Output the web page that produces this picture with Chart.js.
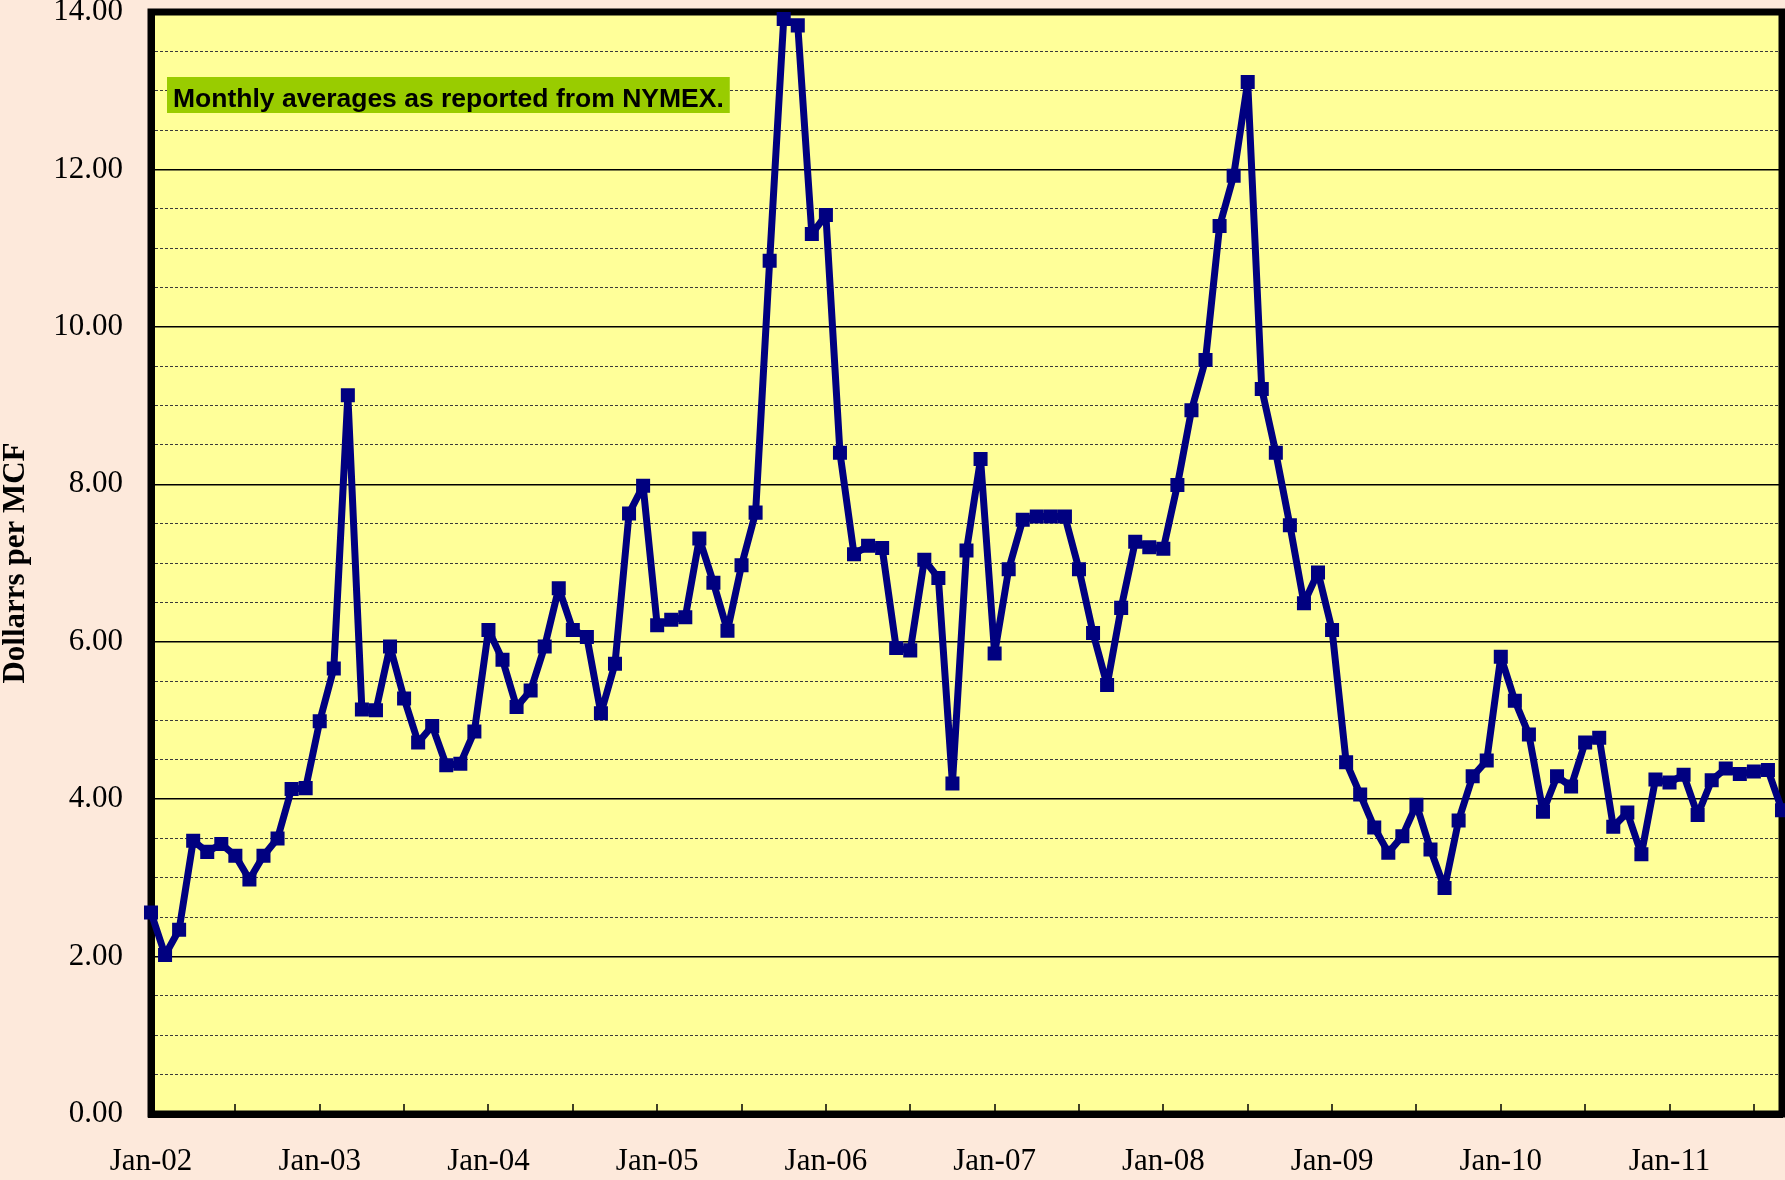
<!DOCTYPE html>
<html>
<head>
<meta charset="utf-8">
<title>Natural gas prices - monthly averages</title>
<script src="https://cdn.jsdelivr.net/npm/chart.js@4.4.1/dist/chart.umd.min.js"></script>
<style>
  html, body { margin: 0; padding: 0; background: #fde9db; }
  canvas { display: block; }
</style>
</head>
<body>
<canvas id="line" width="1785" height="1180"></canvas>
<script>
//month names and years for the category axis
var monthNames = ['Jan', 'Feb', 'Mar', 'Apr', 'May', 'Jun', 'Jul', 'Aug', 'Sep', 'Oct', 'Nov', 'Dec'];
var years = ['02', '03', '04', '05', '06', '07', '08', '09', '10', '11'];

//dollars per MCF, Jan-02 .. Sep-11
var prices = [
    2.56, 2.02, 2.34, 3.47, 3.33, 3.43, 3.28, 2.98, 3.28, 3.50, 4.13, 4.14,      // 2002
    4.99, 5.66, 9.13, 5.14, 5.13, 5.94, 5.28, 4.72, 4.93, 4.43, 4.45, 4.86,      // 2003
    6.15, 5.77, 5.17, 5.38, 5.94, 6.68, 6.15, 6.06, 5.09, 5.72, 7.63, 7.98,      // 2004
    6.21, 6.28, 6.31, 7.31, 6.75, 6.14, 6.97, 7.64, 10.84, 13.91, 13.83, 11.18,  // 2005
    11.42, 8.40, 7.11, 7.22, 7.19, 5.92, 5.89, 7.04, 6.81, 4.20, 7.16, 8.32,     // 2006
    5.85, 6.92, 7.55, 7.59, 7.59, 7.59, 6.92, 6.11, 5.45, 6.43, 7.27, 7.20,      // 2007
    7.18, 7.99, 8.94, 9.58, 11.28, 11.92, 13.11, 9.21, 8.40, 7.48, 6.49, 6.88,   // 2008
    6.15, 4.47, 4.06, 3.64, 3.32, 3.53, 3.93, 3.36, 2.87, 3.73, 4.29, 4.49,      // 2009
    5.81, 5.25, 4.82, 3.84, 4.29, 4.16, 4.72, 4.78, 3.65, 3.83, 3.30, 4.25,      // 2010
    4.21, 4.31, 3.80, 4.24, 4.39, 4.32, 4.35, 4.37, 3.86                         // 2011
];

var note = 'Monthly averages as reported from NYMEX.';
var axisTitle = 'Dollarrs per MCF';

//build the month labels (Jan-02, Feb-02, ...) as long as there are prices
var months = [];
for (var y = 0; y < years.length; y++) {
    for (var m = 0; m < 12; m++) {
        if (months.length < prices.length) months.push(monthNames[m] + '-' + years[y]);
    }
}

//no automatic padding from the tick labels, the plot box is fixed
function noPadding(scale) {
    scale.paddingTop = 0;
    scale.paddingBottom = 0;
    scale.paddingLeft = 0;
    scale.paddingRight = 0;
}

//background, frame, small ticks and the note box
var decor = {
    id: 'decor',
    beforeDraw: function (chart) {
        var c = chart.ctx, a = chart.chartArea;
        c.save();
        c.fillStyle = '#fde9db';
        c.fillRect(0, 0, chart.width, chart.height);
        c.fillStyle = '#ffff99';
        c.fillRect(a.left, a.top, a.right - a.left, a.bottom - a.top);
        c.restore();
    },
    beforeDatasetsDraw: function (chart) {
        var c = chart.ctx, a = chart.chartArea, xs = chart.scales.x;
        c.save();
        c.strokeStyle = '#000';
        c.lineWidth = 1.5;
        for (var i = 6; i < months.length - 1; i += 6) {
            var px = Math.round(xs.getPixelForValue(i));
            c.beginPath();
            c.moveTo(px, a.bottom - 3);
            c.lineTo(px, a.bottom - 10);
            c.stroke();
        }
        c.lineWidth = 7;
        c.strokeRect(a.left, a.top, a.right - a.left, a.bottom - a.top);

        c.font = 'bold 26.5px "Liberation Sans", Arial, sans-serif';
        var w = c.measureText(note).width;
        c.fillStyle = '#99cc00';
        c.fillRect(a.left + 16, a.top + 65, w + 12, 36);
        c.fillStyle = '#000';
        c.textBaseline = 'alphabetic';
        c.fillText(note, a.left + 22, a.top + 95);
        c.restore();
    }
};

Chart.defaults.font.family = '"Liberation Serif", "Times New Roman", serif';
Chart.defaults.color = '#000';

new Chart(document.getElementById('line'), {
    type: 'line',
    data: {
        labels: months,
        datasets: [{
            data: prices,
            borderColor: '#000080',
            backgroundColor: '#000080',
            borderWidth: 7,
            borderJoinStyle: 'bevel',
            pointStyle: 'rect',
            pointRadius: 8.5,
            pointBorderWidth: 2,
            pointBackgroundColor: '#000080',
            pointBorderColor: '#000080',
            tension: 0,
            fill: false,
            clip: false
        }]
    },
    options: {
        responsive: false,
        animation: false,
        devicePixelRatio: 1,
        layout: { autoPadding: false, padding: { top: 12, right: 3, left: 0, bottom: 0 } },
        plugins: {
            legend: { display: false },
            tooltip: { enabled: false }
        },
        scales: {
            x: {
                type: 'category',
                offset: false,
                grid: { display: false, drawTicks: false },
                border: { display: true, color: '#000', width: 7 },
                ticks: {
                    autoSkip: false,
                    maxRotation: 0,
                    minRotation: 0,
                    padding: 29,
                    font: { size: 31 },
                    callback: function (val, idx) {
                        return idx % 12 === 0 ? months[idx] : '';
                    }
                },
                afterFit: function (scale) {
                    scale.height = 66;
                    noPadding(scale);
                }
            },
            y: {
                min: 0,
                max: 14,
                grid: {
                    drawTicks: false,
                    color: function (ctx) {
                        return ctx.tick && ctx.tick.value % 2 === 0 ? '#000' : '#3a3a3a';
                    },
                    lineWidth: function (ctx) {
                        return ctx.tick && ctx.tick.value % 2 === 0 ? 1.5 : 1;
                    }
                },
                border: {
                    display: true,
                    color: '#000',
                    width: 7,
                    dash: function (ctx) {
                        return ctx.tick && ctx.tick.value % 2 !== 0 ? [3, 2] : [];
                    }
                },
                ticks: {
                    stepSize: 0.5,
                    autoSkip: false,
                    padding: 28,
                    font: { size: 31 },
                    callback: function (v) {
                        return v % 2 === 0 ? v.toFixed(2) : '';
                    }
                },
                title: {
                    display: true,
                    text: axisTitle,
                    color: '#000',
                    padding: 0,
                    font: { size: 31, weight: 'bold', lineHeight: 1 }
                },
                afterFit: function (scale) {
                    scale.width = 151;
                    noPadding(scale);
                }
            }
        }
    },
    plugins: [decor]
});
</script>
</body>
</html>
